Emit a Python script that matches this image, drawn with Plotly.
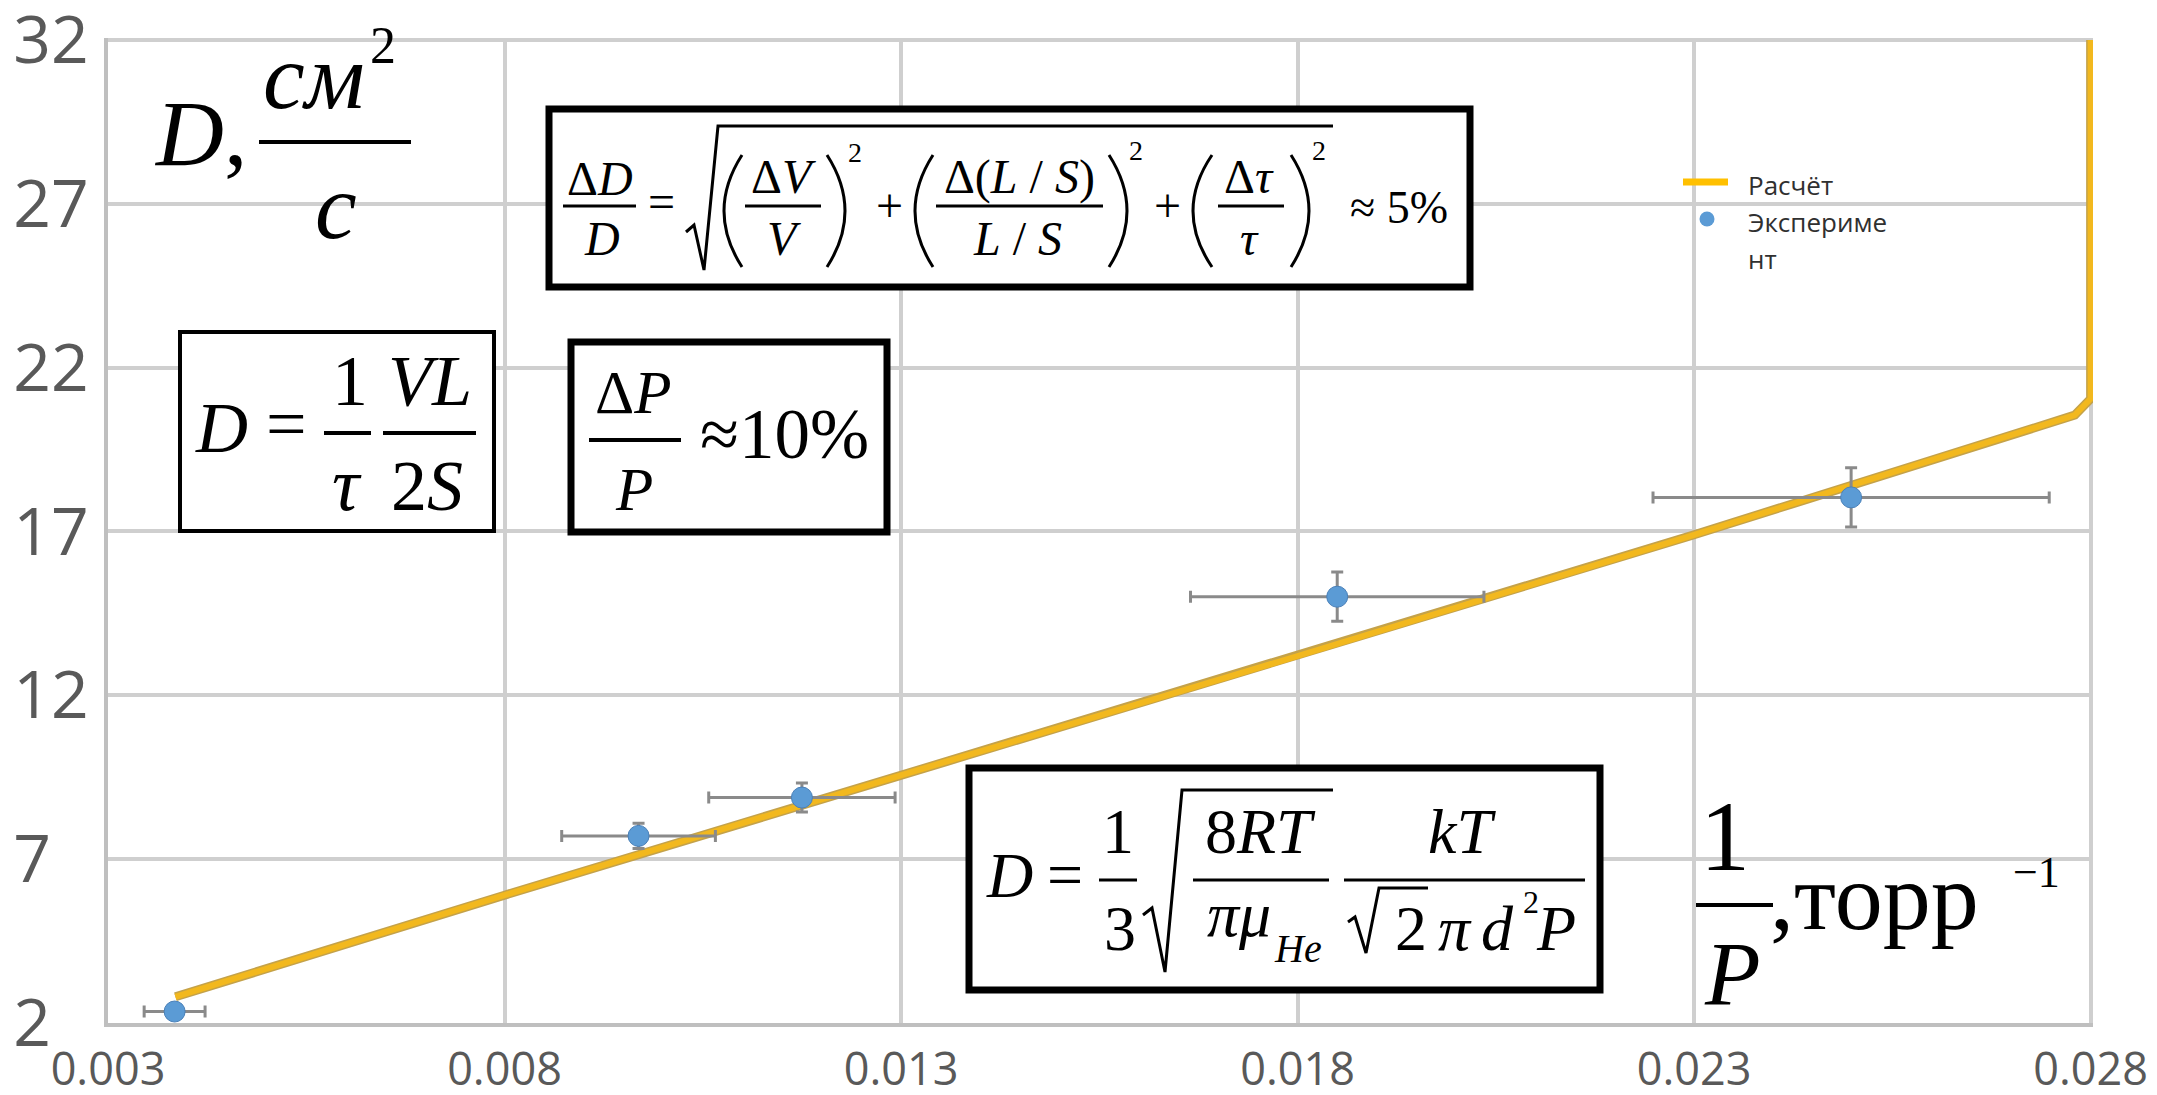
import plotly.graph_objects as go

# Experimental diffusion coefficient vs inverse pressure
inv_p_exp = [0.00384, 0.00969, 0.01175, 0.0185, 0.02498]   # 1/P, torr^-1
d_exp = [2.35, 7.71, 8.88, 15.01, 18.04]                    # D, cm^2/s

# Calculated curve
inv_p_calc = [0.00385, 0.0080, 0.0136, 0.0180, 0.0230, 0.0278, 0.0280, 0.0280]
d_calc = [2.80, 5.90, 10.00, 13.20, 16.90, 20.55, 21.05, 32.0]

# Relative uncertainties, percent
err_inv_p_pct = 10
err_d_pct = 5

x_ticks = [0.003, 0.008, 0.013, 0.018, 0.023, 0.028]
x_tick_labels = ["0.003", "0.008", "0.013", "0.018", "0.023", "0.028"]
y_ticks = [2, 7, 12, 17, 22, 27, 32]
y_tick_labels = ["2\u2007", "7\u2007", "12", "17", "22", "27", "32"]

legend_names = ["Расчёт", "Экспериме", "нт"]

# ---- page geometry (pixels) ----
W, H = 2157, 1095
ML, MR, MT, MB = 108, 64, 38, 72
PW = W - ML - MR
PH = H - MT - MB

ORANGE = "#F2B81E"
BLUE = "#5B9BD5"
GRID = "#CFCFCF"
TICK_GREY = "#595959"
SERIF = "Liberation Serif"


def px(x):
    return (x - ML) / PW


def py(y):
    return (H - MB - y) / PH


annotations = []
shapes = []


def text(s, cx, base, size, family=SERIF, color="black"):
    # centre of the text box sits 0.3375 em above the serif baseline
    annotations.append(dict(
        text=s, x=px(cx), y=py(base - 0.3375 * size),
        xref="paper", yref="paper", xanchor="center", yanchor="middle",
        showarrow=False, borderpad=0, borderwidth=0,
        font=dict(family=family, size=size, color=color)))


def bar(x0, x1, y, w):
    shapes.append(dict(type="line", xref="paper", yref="paper",
                       x0=px(x0), x1=px(x1), y0=py(y), y1=py(y),
                       line=dict(color="black", width=w), layer="above"))


def box(x0, y0, x1, y1, w):
    shapes.append(dict(type="rect", xref="paper", yref="paper",
                       x0=px(x0), x1=px(x1), y0=py(y0), y1=py(y1),
                       fillcolor="white", line=dict(color="black", width=w),
                       layer="above"))


def path(points, w):
    d = "M " + " L ".join(f"{px(a):.6f},{py(b):.6f}" for a, b in points)
    shapes.append(dict(type="path", xref="paper", yref="paper", path=d,
                       line=dict(color="black", width=w), layer="above"))


def paren(xl, xr, top, bot, side, w=3):
    mid = (top + bot) / 2
    if side == "(":
        ctrl = 2 * xl - xr
        d = f"M {px(xr):.6f},{py(top):.6f} Q {px(ctrl):.6f},{py(mid):.6f} {px(xr):.6f},{py(bot):.6f}"
    else:
        ctrl = 2 * xr - xl
        d = f"M {px(xl):.6f},{py(top):.6f} Q {px(ctrl):.6f},{py(mid):.6f} {px(xl):.6f},{py(bot):.6f}"
    shapes.append(dict(type="path", xref="paper", yref="paper", path=d,
                       line=dict(color="black", width=w), layer="above"))


# ---- y-axis caption: D, cm^2/s ----
text("<i>D</i>,", 200, 165, 94)
bar(259, 411, 142, 4)
text("<i>см</i>", 314, 108, 94)
text("2", 383, 63, 52)
text("<i>с</i>", 336, 238, 94)

# ---- relative error of D ----
box(549, 109, 1470, 287, 7)
text("Δ<i>D</i>", 600, 195, 48)
bar(563, 636, 206, 3)
text("<i>D</i>", 602, 255, 48)
text("=", 661, 218, 48)
path([(686, 232), (694, 225), (704, 270), (718, 126), (1333, 126)], 3)
paren(724, 742, 155, 267, "(")
paren(827, 845, 155, 267, ")")
text("Δ<i>V</i>", 783, 193, 48)
bar(745, 821, 206, 3)
text("<i>V</i>", 784, 255, 48)
text("2", 855, 162, 28)
text("+", 889, 222, 48)
paren(915, 933, 155, 267, "(")
paren(1109, 1127, 155, 267, ")")
text("Δ(<i>L</i> / <i>S</i>)", 1019, 193, 48)
bar(936, 1103, 206, 3)
text("<i>L</i> / <i>S</i>", 1017, 255, 48)
text("2", 1136, 160, 28)
text("+", 1167, 222, 48)
paren(1193, 1212, 155, 267, "(")
paren(1291, 1309, 155, 267, ")")
text("Δ<i>τ</i>", 1249, 193, 48)
bar(1218, 1284, 206, 3)
text("<i>τ</i>", 1249, 255, 48)
text("2", 1319, 160, 28)
text("≈ 5%", 1399, 223, 46)

# ---- D from the measured time constant ----
box(180, 332, 494, 531, 4)
text("<i>D</i>", 221, 452, 72)
text("=", 286, 448, 72)
text("1", 350, 405, 72)
bar(324, 371, 433, 4)
text("<i>τ</i>", 347, 510, 76)
text("<i>VL</i>", 430, 405, 72)
bar(383, 476, 433, 4)
text("2<i>S</i>", 427, 510, 72)

# ---- pressure uncertainty ----
box(571, 342, 887, 532, 7)
text("Δ<i>P</i>", 633, 413, 61)
bar(589, 681, 440, 4)
text("<i>P</i>", 634, 510, 61)
text("≈10%", 784, 458, 71)

# ---- kinetic-theory estimate ----
box(969, 768, 1600, 990, 7)
text("<i>D</i>", 1009, 897, 64)
text("=", 1065, 896, 64)
text("1", 1118, 853, 64)
bar(1099, 1137, 880, 3)
text("3", 1120, 950, 64)
path([(1143, 915), (1152, 908), (1165, 972), (1182, 790), (1333, 790)], 3)
text("8<i>RT</i>", 1260, 853, 64)
bar(1193, 1329, 880, 3)
text("<i>πμ</i>", 1239, 936, 64)
text("<i>He</i>", 1298, 962, 40)
text("<i>kT</i>", 1462, 853, 64)
bar(1344, 1585, 880, 3)
path([(1348, 922), (1355, 917), (1366, 953), (1379, 888), (1428, 888)], 3)
text("2", 1411, 950, 64)
text("<i>π</i>", 1455, 950, 64)
text("<i>d</i>", 1497, 950, 64)
text("2", 1531, 913, 32)
text("<i>P</i>", 1556, 950, 64)

# ---- x-axis caption: 1/P, torr^-1 ----
text("1", 1725, 870, 100)
bar(1696, 1773, 905, 4)
text("<i>P</i>", 1732, 1005, 91)
text(",торр", 1874, 929, 96)
text("−1", 2036, 887, 44)

# ---- legend ----
shapes.append(dict(type="line", xref="paper", yref="paper",
                   x0=px(1683), x1=px(1728), y0=py(182), y1=py(182),
                   line=dict(color="#FFC000", width=7), layer="above"))
shapes.append(dict(type="circle", xref="paper", yref="paper",
                   x0=px(1699.5), x1=px(1714.5), y0=py(211.5), y1=py(226.5),
                   fillcolor=BLUE, line=dict(width=0), layer="above"))
for name, cy in zip(legend_names, [188, 225, 262]):
    annotations.append(dict(
        text=name, x=px(1748), y=py(cy - 3), xref="paper", yref="paper",
        xanchor="left", yanchor="middle", showarrow=False,
        borderpad=0, borderwidth=0,
        font=dict(family="Open Sans", size=26, color="#303030")))

fig = go.Figure()

# calculated curve: darker rim under the golden line
fig.add_trace(go.Scatter(x=inv_p_calc, y=d_calc, mode="lines",
                         line=dict(color="#C4A24A", width=9),
                         showlegend=False, hoverinfo="skip"))
fig.add_trace(go.Scatter(x=inv_p_calc, y=d_calc, mode="lines", name="Расчёт",
                         line=dict(color=ORANGE, width=6), showlegend=False))

fig.add_trace(go.Scatter(
    x=inv_p_exp, y=d_exp, mode="markers", name="Эксперимент",
    marker=dict(color=BLUE, size=21, line=dict(color="#4A80B8", width=1)),
    error_x=dict(type="percent", value=err_inv_p_pct, color="#8A8A8A",
                 thickness=3, width=6),
    error_y=dict(type="percent", value=err_d_pct, color="#8A8A8A",
                 thickness=3, width=6),
    cliponaxis=False, showlegend=False))

fig.update_layout(
    width=W, height=H,
    margin=dict(l=ML, r=MR, t=MT, b=MB, pad=0),
    paper_bgcolor="white", plot_bgcolor="white",
    showlegend=False,
    annotations=annotations, shapes=shapes,
    xaxis=dict(range=[0.003, 0.02803], tickvals=x_ticks, ticktext=x_tick_labels,
               showgrid=True, gridcolor=GRID, gridwidth=4,
               showline=True, linecolor="#BFBFBF", linewidth=4,
               zeroline=False, ticks="", ticklabelstandoff=4, automargin=False,
               ticklabeloverflow="allow",
               tickfont=dict(family="Open Sans", size=45, color=TICK_GREY)),
    yaxis=dict(range=[2, 32.06], tickvals=y_ticks, ticktext=y_tick_labels,
               showgrid=True, gridcolor=GRID, gridwidth=4,
               showline=True, linecolor="#BFBFBF", linewidth=4,
               zeroline=False, ticks="", ticklabelstandoff=2, automargin=False,
               ticklabeloverflow="allow",
               tickfont=dict(family="Open Sans", size=66, color=TICK_GREY)),
)

fig.write_html("out.html")
